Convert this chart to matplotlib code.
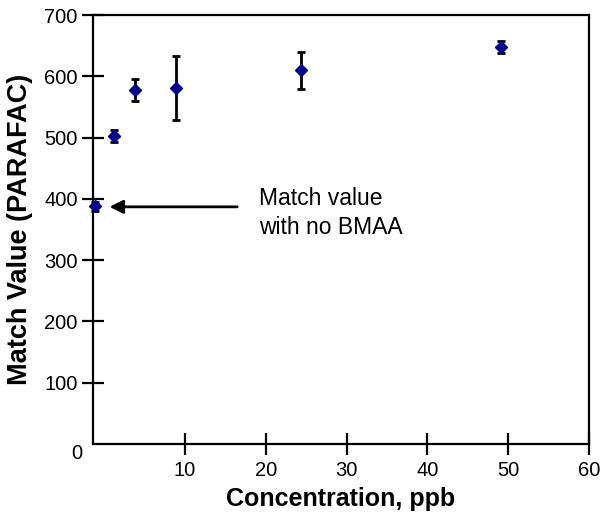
import matplotlib
matplotlib.use("Agg")
import matplotlib.pyplot as plt

plt.rcParams['font.family'] = ['Liberation Sans', 'DejaVu Sans']

# concentration (ppb), match value and error
conc = [-1.2, 1.2, 3.8, 8.9, 24.4, 49.1]
match_value = [388, 502, 577, 581, 610, 648]
match_err = [7, 10, 18, 52, 30, 10]

x_ticks = [10, 20, 30, 40, 50, 60]
y_ticks = [100, 200, 300, 400, 500, 600, 700]

fig = plt.figure(figsize=(6.14, 5.27), dpi=100)
ax = fig.add_axes([0.1515, 0.1575, 0.8075, 0.814])

ax.errorbar(conc, match_value, yerr=match_err, fmt='D', color='#00008B',
            markersize=6.5, ecolor='black', elinewidth=2, capsize=3,
            capthick=2, zorder=3, clip_on=False)

ax.set_xlim(-1.4, 60)
ax.set_ylim(0, 700)
ax.set_xticks(x_ticks)
ax.set_yticks(y_ticks)

for s in ax.spines.values():
    s.set_linewidth(1.6)
ax.tick_params(axis='both', direction='inout', length=16, width=1.6,
               labelsize=14.5, pad=3)
ax.tick_params(axis='x', pad=4)

# shared origin label
ax.annotate('0', xy=(0, 0), xycoords='axes fraction', xytext=(-8, -7),
            textcoords='offset points', ha='right', va='center', fontsize=14.5)

ax.set_xlabel('Concentration, ppb', fontsize=18, fontweight='bold', labelpad=5)
ax.set_ylabel('Match Value (PARAFAC)', fontsize=19.5, fontweight='bold', labelpad=8)

ax.annotate('', xy=(0.3, 387), xytext=(16.8, 387),
            arrowprops=dict(arrowstyle='-|>', color='black', lw=2,
                            mutation_scale=20))
ax.text(19.1, 377, 'Match value\nwith no BMAA', fontsize=16.5, ha='left',
        va='center', linespacing=1.35)

fig.savefig('out.png', dpi=100)
